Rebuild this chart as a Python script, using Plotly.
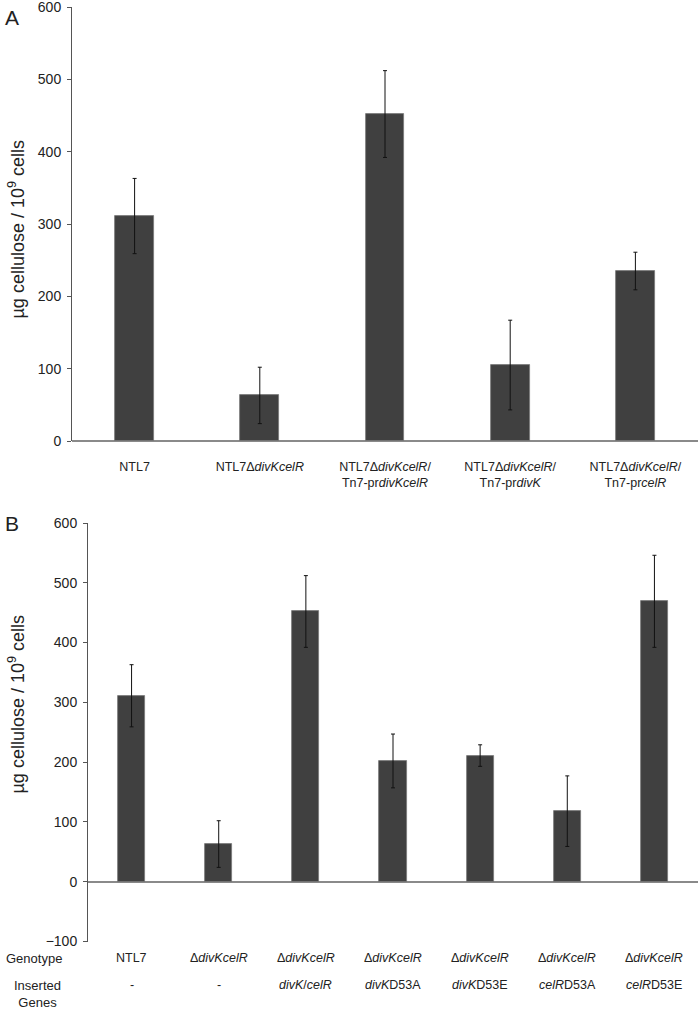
import plotly.graph_objects as go

# Panel A
strains_a = [
    "NTL7",
    "NTL7Δ<i>divKcelR</i>",
    "NTL7Δ<i>divKcelR</i>/<br>Tn7-pr<i>divKcelR</i>",
    "NTL7Δ<i>divKcelR</i>/<br>Tn7-pr<i>divK</i>",
    "NTL7Δ<i>divKcelR</i>/<br>Tn7-pr<i>celR</i>",
]
cellulose_a = [311, 63, 452, 105, 235]
err_a = [52, 39, 60, 62, 26]

# Panel B
genotype_b = ["NTL7", "Δ<i>divKcelR</i>", "Δ<i>divKcelR</i>", "Δ<i>divKcelR</i>",
              "Δ<i>divKcelR</i>", "Δ<i>divKcelR</i>", "Δ<i>divKcelR</i>"]
inserted_b = ["-", "-", "<i>divK</i>/<i>celR</i>", "<i>divK</i>D53A", "<i>divK</i>D53E",
              "<i>celR</i>D53A", "<i>celR</i>D53E"]
cellulose_b = [311, 63, 452, 202, 211, 118, 469]
err_b = [52, 39, 60, 45, 18, 59, 77]

font = "Liberation Sans, Arial, sans-serif"
bar_color = "#404040"
W, H = 700, 1012

fig = go.Figure()
fig.add_trace(go.Bar(
    x=list(range(len(strains_a))), y=cellulose_a, width=0.31,
    marker=dict(color=bar_color, line=dict(color="#777777", width=0.8)),
    error_y=dict(type="data", array=err_a, color="#111111", thickness=1, width=2),
    xaxis="x", yaxis="y", showlegend=False))
fig.add_trace(go.Bar(
    x=list(range(len(genotype_b))), y=cellulose_b, width=0.31,
    marker=dict(color=bar_color, line=dict(color="#777777", width=0.8)),
    error_y=dict(type="data", array=err_b, color="#111111", thickness=1, width=2),
    xaxis="x2", yaxis="y2", showlegend=False))

yax = dict(showgrid=False, zeroline=True, zerolinecolor="#8a8a8a", zerolinewidth=1.5,
           showline=True, linecolor="#555555", linewidth=1, ticks="outside", ticklen=4,
           tickcolor="#555555", dtick=100, tickfont=dict(size=14, color="#222222"),
           ticklabelstandoff=3, ticklabeloverflow="allow", automargin=False)

fig.update_layout(
    width=W, height=H, margin=dict(l=0, r=0, t=0, b=0, autoexpand=False),
    plot_bgcolor="white", paper_bgcolor="white", bargap=0,
    font=dict(family=font, color="#222222"),
    xaxis=dict(domain=[72 / W, 698 / W], anchor="y", range=[-0.5, 4.5],
               showgrid=False, zeroline=False, showline=False, ticks="",
               tickvals=list(range(len(strains_a))), ticktext=strains_a,
               tickfont=dict(size=12.5, color="#222222"), ticklabelstandoff=16,
               automargin=False),
    yaxis=dict(domain=[1 - 441 / H, 1 - 7 / H], anchor="x", range=[0, 600], **yax),
    xaxis2=dict(domain=[88 / W, 698 / W], anchor="y2", range=[-0.5, 6.5],
                showgrid=False, zeroline=False, showline=False, ticks="",
                showticklabels=False, automargin=False),
    yaxis2=dict(domain=[1 - 941.5 / H, 1 - 523 / H], anchor="x2", range=[-100, 600], **yax),
)

ytitle = "µg cellulose / 10<sup>9</sup> cells"
ann = [
    dict(text="A", x=3 / W, y=1 - 17 / H, xanchor="left", yanchor="middle", font=dict(size=21)),
    dict(text="B", x=3 / W, y=1 - 523 / H, xanchor="left", yanchor="middle", font=dict(size=21)),
    dict(text=ytitle, textangle=-90, x=3 / W, y=1 - 230 / H, xanchor="left", yanchor="middle",
         font=dict(size=18)),
    dict(text=ytitle, textangle=-90, x=3 / W, y=1 - 705 / H, xanchor="left", yanchor="middle",
         font=dict(size=18)),
    dict(text="Genotype", x=4 / W, y=1 - 958 / H, xanchor="left", yanchor="middle",
         font=dict(size=13)),
    dict(text="Inserted<br>Genes", x=37 / W, y=1 - 994 / H, xanchor="center", yanchor="middle",
         font=dict(size=13)),
]
for i, (g, ins) in enumerate(zip(genotype_b, inserted_b)):
    ann.append(dict(text=g, x=i, xref="x2", y=1 - 958 / H, yref="paper", xanchor="center",
                    yanchor="middle", showarrow=False, font=dict(size=12.5)))
    ann.append(dict(text=ins, x=i, xref="x2", y=1 - 985 / H, yref="paper", xanchor="center",
                    yanchor="middle", showarrow=False, font=dict(size=12.5)))
for a in ann:
    a.setdefault("xref", "paper")
    a.setdefault("yref", "paper")
    a.setdefault("showarrow", False)
fig.update_layout(annotations=ann)

# the page body has a default margin; drop it so the figure fills the window
fig.write_html("out.html", config={"displayModeBar": False},
               post_script="document.body.style.margin = '0';")
